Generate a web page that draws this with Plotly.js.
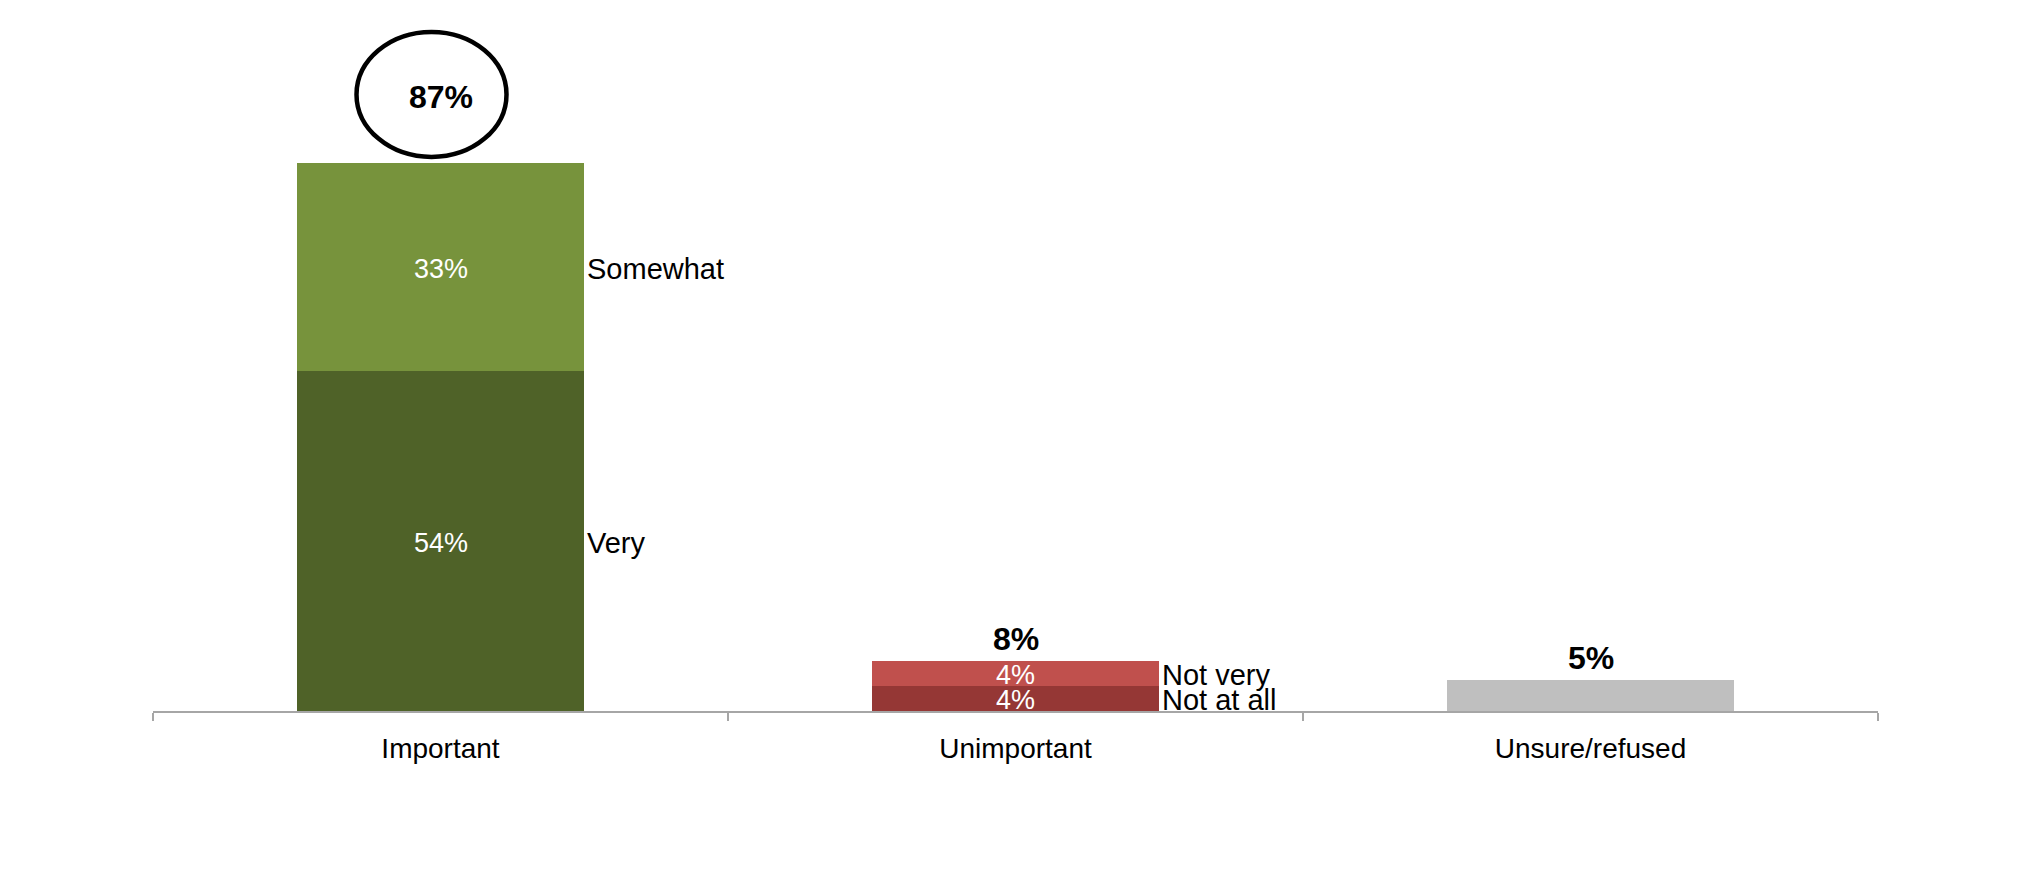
<!DOCTYPE html>
<html>
<head>
<meta charset="utf-8">
<script src="https://cdn.plot.ly/plotly-3.0.1.min.js"></script>
<style>
  body { margin: 0; background: #fff; }
  #chart { width: 2032px; height: 869px; }
</style>
</head>
<body>
<div id="chart"></div>
<script>
// categories on the x axis
var categories = ['Important', 'Unimportant', 'Unsure/refused'];

// one stacked segment per entry
var segNames  = ['Very', 'Somewhat', 'Not at all', 'Not very', 'Unsure/refused'];
var segCats   = ['Important', 'Important', 'Unimportant', 'Unimportant', 'Unsure/refused'];
var segValues = [54, 33, 4, 4, 5];
var segColors = ['#4F6228', '#77933C', '#953735', '#C0504D', '#BFBFBF'];
var segShowText = [true, true, true, true, false];

// totals above the bars
var totals  = [87, 8, 5];
var circled = [true, false, false];

var barWidth = 0.5;
var font = 'Liberation Sans, Arial, sans-serif';

var traces = [];
var annotations = [];
var stackTop = {};

for (var i = 0; i < segNames.length; i++) {
  traces.push({
    type: 'bar',
    name: segNames[i],
    x: [segCats[i]],
    y: [segValues[i]],
    width: barWidth,
    marker: { color: segColors[i], line: { width: 0 } },
    hoverinfo: 'skip'
  });

  var catIdx = categories.indexOf(segCats[i]);
  var base = stackTop[segCats[i]] || 0;
  var mid = base + segValues[i] / 2;
  stackTop[segCats[i]] = base + segValues[i];

  if (segShowText[i]) {
    // value inside the segment
    annotations.push({
      x: catIdx, y: mid, xref: 'x', yref: 'y',
      text: segValues[i] + '%', showarrow: false,
      xanchor: 'center', yanchor: 'middle', yshift: -2,
      font: { family: font, size: 27, color: '#ffffff' }
    });
    // segment name to the right of the bar
    annotations.push({
      x: catIdx + barWidth / 2, y: mid, xref: 'x', yref: 'y',
      text: segNames[i], showarrow: false,
      xanchor: 'left', yanchor: 'middle', xshift: 1, yshift: -2,
      font: { family: font, size: 29, color: '#000000' }
    });
  }
}

var shapes = [];
for (var j = 0; j < categories.length; j++) {
  annotations.push({
    x: j, y: totals[j], xref: 'x', yref: 'y',
    text: '<b>' + totals[j] + '%</b>', showarrow: false,
    xanchor: 'center', yanchor: 'bottom',
    yshift: circled[j] ? 46 : 2,
    font: { family: font, size: 32, color: '#000000' }
  });
  if (circled[j]) {
    shapes.push({
      type: 'circle',
      xref: 'x', yref: 'y',
      xsizemode: 'pixel', ysizemode: 'pixel',
      xanchor: j, yanchor: totals[j],
      x0: -84, x1: 66, y0: 6, y1: 131,
      line: { color: '#000000', width: 4.5 },
      fillcolor: 'rgba(0,0,0,0)'
    });
  }
}

var layout = {
  width: 2032,
  height: 869,
  margin: { l: 153, r: 154, t: 18, b: 158 },
  paper_bgcolor: '#ffffff',
  plot_bgcolor: '#ffffff',
  barmode: 'stack',
  showlegend: false,
  xaxis: {
    type: 'category',
    categoryorder: 'array',
    categoryarray: categories,
    range: [-0.5, categories.length - 0.5],
    showline: true,
    linecolor: '#A6A6A6',
    linewidth: 2,
    ticks: 'outside',
    tickson: 'boundaries',
    ticklen: 8,
    tickcolor: '#A6A6A6',
    tickwidth: 2,
    ticklabelstandoff: 11,
    showgrid: false,
    zeroline: false,
    tickfont: { family: font, size: 28, color: '#000000' },
    fixedrange: true
  },
  yaxis: {
    range: [0, 110],
    visible: false,
    showgrid: false,
    zeroline: false,
    fixedrange: true
  },
  annotations: annotations,
  shapes: shapes
};

Plotly.newPlot('chart', traces, layout, { displayModeBar: false, staticPlot: true });
</script>
</body>
</html>
